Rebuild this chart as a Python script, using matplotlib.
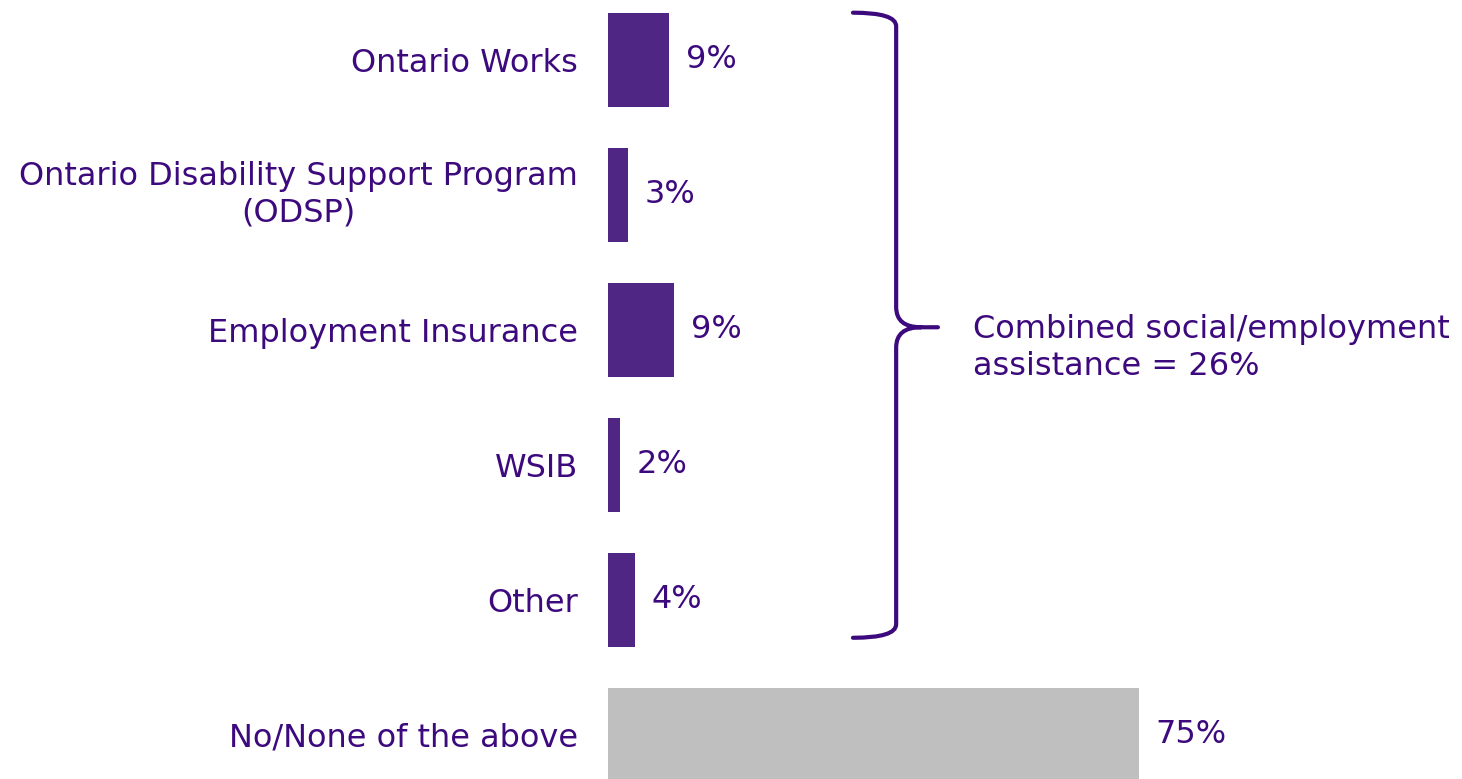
import matplotlib
matplotlib.use("Agg")
import matplotlib.pyplot as plt
from matplotlib.path import Path
from matplotlib.patches import PathPatch

# valores
categories = ["Ontario Works", "Ontario Disability Support Program\n(ODSP)",
              "Employment Insurance", "WSIB", "Other", "No/None of the above"]
values = [8.6, 2.8, 9.3, 1.7, 3.8, 75.0]
value_labels = ["9%", "3%", "9%", "2%", "4%", "75%"]
combined_label = "Combined social/employment\nassistance = 26%"

bar_purple = "#4F2683"
bar_gray = "#BFBFBF"
text_col = "#3D0A7E"
colors = [bar_purple] * 5 + [bar_gray]
fs = 23

plt.rcParams['font.family'] = ['DejaVu Sans']

fig = plt.figure(figsize=(14.62, 7.79), dpi=100)
ax = fig.add_axes([608 / 1462, 0, 854 / 1462, 1])

y = list(range(len(categories)))
ax.barh(y, values, height=0.69, color=colors)

# rótulos de valor
for yi, v, lab in zip(y, values, value_labels):
    ax.annotate(lab, (v, yi), xytext=(12, 0), textcoords="offset points",
                va="center", ha="left", fontsize=fs, color=text_col)

ax.set_xlim(0, 854 / 7.08)
ax.set_ylim(5.326, -0.444)
ax.set_yticks(y)
ax.set_yticklabels(categories, fontsize=fs, color=text_col)
ax.tick_params(axis="y", length=0, pad=21.6)
odsp = ax.get_yticklabels()[1]
odsp.set_multialignment("center")
odsp.set_linespacing(1.25)
odsp.set_verticalalignment("center")
ax.set_xticks([])
for s in ax.spines.values():
    s.set_visible(False)

# chave agrupando as 5 primeiras
x0, x1, x2 = 34.6, 40.7, 46.6
top, mid, bot = -0.35, 1.98, 4.28
verts = [(x0, top), (x1, top), (x1, top + 0.1),
         (x1, mid - 0.15),
         (x1, mid), (x1 + 3.5, mid),
         (x2, mid),
         (x1 + 3.5, mid), (x1, mid), (x1, mid + 0.15),
         (x1, bot - 0.1),
         (x1, bot), (x0, bot)]
codes = [Path.MOVETO, Path.CURVE3, Path.CURVE3,
         Path.LINETO,
         Path.CURVE3, Path.CURVE3,
         Path.LINETO,
         Path.MOVETO, Path.CURVE3, Path.CURVE3,
         Path.LINETO,
         Path.CURVE3, Path.CURVE3]
ax.add_patch(PathPatch(Path(verts, codes), fill=False, lw=3, ec=text_col,
                       capstyle="round", clip_on=False))

ax.text(x2 + 5, mid + 0.15, combined_label, fontsize=fs, color=text_col,
        va="center", ha="left", linespacing=1.25)

fig.savefig("out.png", dpi=100)
